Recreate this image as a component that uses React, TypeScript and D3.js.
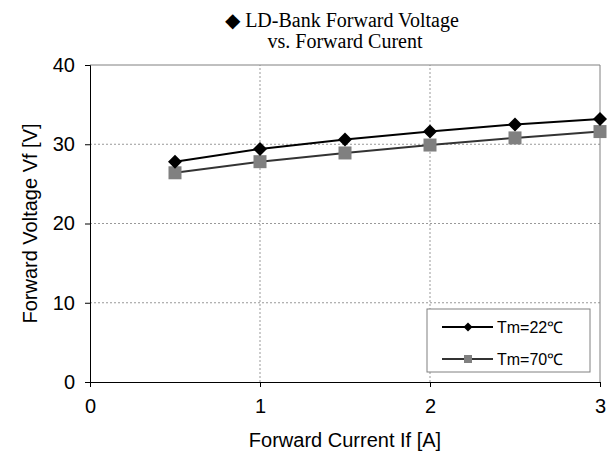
import { useEffect, useRef } from "react";
import * as d3 from "d3";

// forward current If [A]
const current = [0.5, 1.0, 1.5, 2.0, 2.5, 3.0];
// forward voltage Vf [V] at Tm=22C and Tm=70C
const vf22 = [27.8, 29.4, 30.6, 31.6, 32.5, 33.2];
const vf70 = [26.4, 27.8, 28.9, 29.9, 30.8, 31.6];

const xTicks = [0, 1, 2, 3];
const yTicks = [0, 10, 20, 30, 40];
const seriesNames = ["Tm=22℃", "Tm=70℃"];

const App = () => {
  const ref = useRef<SVGSVGElement>(null);

  useEffect(() => {
    const svg = d3.select(ref.current);
    svg.selectAll("*").remove();

    const x = d3.scaleLinear().domain([0, 3]).range([90, 600]);
    const y = d3.scaleLinear().domain([0, 40]).range([382, 65]);
    const sans = "Arial, 'Liberation Sans', sans-serif";
    const serif = "'Times New Roman', 'Liberation Serif', serif";

    // grid
    svg.append("g")
      .selectAll("line")
      .data(yTicks.slice(1, -1))
      .join("line")
      .attr("x1", x(0)).attr("x2", x(3))
      .attr("y1", (d) => y(d)).attr("y2", (d) => y(d))
      .attr("stroke", "#999").attr("stroke-dasharray", "2,2");
    svg.append("g")
      .selectAll("line")
      .data(xTicks.slice(1, -1))
      .join("line")
      .attr("x1", (d) => x(d)).attr("x2", (d) => x(d))
      .attr("y1", y(0)).attr("y2", y(40))
      .attr("stroke", "#999").attr("stroke-dasharray", "2,2");

    // plot border (top, right)
    svg.append("path")
      .attr("d", `M${x(0)},${y(40)}H${x(3)}V${y(0)}`)
      .attr("fill", "none").attr("stroke", "#808080");

    // axes
    const yAxis = svg.append("g")
      .attr("transform", `translate(${x(0)},0)`)
      .call(d3.axisLeft(y).tickValues(yTicks).tickSize(5).tickPadding(10));
    const xAxis = svg.append("g")
      .attr("transform", `translate(0,${y(0)})`)
      .call(d3.axisBottom(x).tickValues(xTicks).tickSize(5).tickPadding(12).tickFormat(d3.format("d")));
    [yAxis, xAxis].forEach((g) => {
      g.selectAll("path,line").attr("stroke", "#000");
      g.selectAll("text").style("font-family", sans).style("font-size", "20px").attr("fill", "#000");
    });

    // axis titles
    svg.append("text")
      .attr("x", 345).attr("y", 447)
      .attr("text-anchor", "middle")
      .style("font-family", sans).style("font-size", "20px")
      .text("Forward Current If [A]");
    svg.append("text")
      .attr("transform", `translate(30,${(y(0) + y(40)) / 2}) rotate(-90)`)
      .attr("text-anchor", "middle")
      .attr("dy", "0.35em")
      .style("font-family", sans).style("font-size", "20px")
      .text("Forward Voltage Vf [V]");

    // title
    const title = svg.append("text")
      .attr("text-anchor", "middle")
      .style("font-family", serif).style("font-size", "20px");
    title.append("tspan").attr("x", 342).attr("y", 27).text("◆ LD-Bank Forward Voltage");
    title.append("tspan").attr("x", 345).attr("y", 48).text("vs. Forward Curent");

    const line = d3.line<number>()
      .x((_, i) => x(current[i]))
      .y((d) => y(d));

    const diamond = (s: number) => `M0,${-s}L${s},0L0,${s}L${-s},0Z`;

    // series 70C
    svg.append("path")
      .datum(vf70)
      .attr("d", line)
      .attr("fill", "none").attr("stroke", "#333").attr("stroke-width", 2);
    svg.append("g")
      .selectAll("rect")
      .data(vf70)
      .join("rect")
      .attr("x", (_, i) => x(current[i]) - 6.5)
      .attr("y", (d) => y(d) - 6.5)
      .attr("width", 13).attr("height", 13)
      .attr("fill", "#808080");

    // series 22C
    svg.append("path")
      .datum(vf22)
      .attr("d", line)
      .attr("fill", "none").attr("stroke", "#000").attr("stroke-width", 2);
    svg.append("g")
      .selectAll("path")
      .data(vf22)
      .join("path")
      .attr("transform", (d, i) => `translate(${x(current[i])},${y(d)})`)
      .attr("d", diamond(7))
      .attr("fill", "#000");

    // legend
    const lg = svg.append("g");
    lg.append("rect")
      .attr("x", 427).attr("y", 309).attr("width", 163).attr("height", 63)
      .attr("fill", "#fff").attr("stroke", "#808080");
    const rows = [
      { name: seriesNames[0], cy: 327, stroke: "#000", fill: "#000", shape: "diamond" },
      { name: seriesNames[1], cy: 359, stroke: "#333", fill: "#808080", shape: "square" },
    ];
    rows.forEach((r) => {
      lg.append("line")
        .attr("x1", 442).attr("x2", 493).attr("y1", r.cy).attr("y2", r.cy)
        .attr("stroke", r.stroke).attr("stroke-width", 2);
      if (r.shape === "diamond") {
        lg.append("path").attr("transform", `translate(468,${r.cy})`).attr("d", diamond(4.5)).attr("fill", r.fill);
      } else {
        lg.append("rect").attr("x", 464).attr("y", r.cy - 4).attr("width", 8).attr("height", 8).attr("fill", r.fill);
      }
      lg.append("text")
        .attr("x", 497).attr("y", r.cy).attr("dy", "0.35em")
        .style("font-family", sans).style("font-size", "16px")
        .text(r.name);
    });
  }, []);

  return (
    <svg ref={ref} width={616} height={457} style={{ position: "absolute", left: 0, top: 0, background: "#fff" }} />
  );
};

export default App;
